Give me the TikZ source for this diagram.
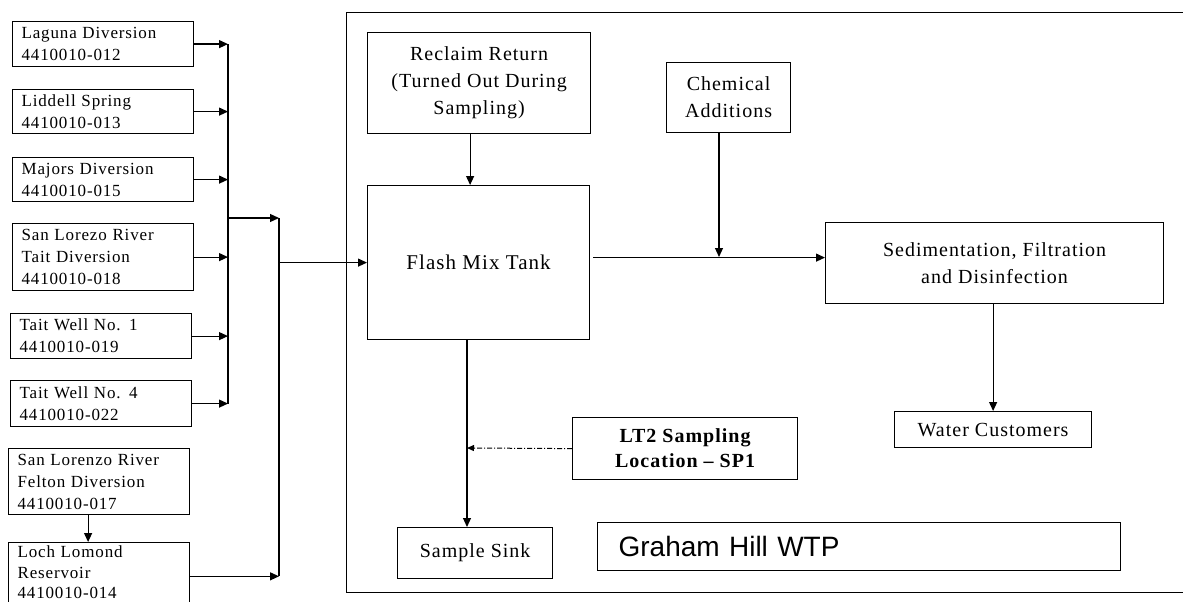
\documentclass[tikz,border=0pt]{standalone}
\usepackage{fontspec}
\setmainfont{Liberation Serif}[LetterSpace=5]
\setsansfont{Liberation Sans}
\usetikzlibrary{arrows.meta}

\begin{document}
\begin{tikzpicture}[x=1pt, y=-1pt, line width=1.2pt,
  src/.style={shape=rectangle, draw, anchor=north west, minimum width=181pt,
    text width=163pt, inner xsep=9pt, align=left, font=\fontsize{17}{22}\selectfont},
  unit/.style={shape=rectangle, draw, anchor=north west, align=center,
    font=\fontsize{20}{27}\selectfont},
  feed/.style={-{Triangle[length=9pt,width=8pt]}}]

\useasboundingbox (0,0) rectangle (1183,602);
\clip (0,0) rectangle (1183,602);

\node (wtp) at (346,12) [shape=rectangle, draw, anchor=north west, minimum width=880pt, minimum height=580pt] {};

\node (laguna) at (12,21) [src, minimum height=45pt] {Laguna Diversion\\4410010-012};

\node (liddell) at (12,89) [src, minimum height=44pt] {Liddell Spring\\4410010-013};

\node (majors) at (12,157) [src, minimum height=44pt] {Majors Diversion\\4410010-015};

\node (taitdiv) at (12,223) [src, minimum height=67pt] {San Lorezo River\\Tait Diversion\\4410010-018};

\node (tait1) at (10,313) [src, minimum height=45pt] {Tait Well No. 1\\4410010-019};

\node (tait4) at (10,380) [src, minimum height=46pt] {Tait Well No. 4\\4410010-022};

\node (felton) at (8,448) [src, minimum height=66pt] {San Lorenzo River\\Felton Diversion\\4410010-017};

\node (loch) at (8,542) [src, minimum height=67pt, text depth=49pt, font=\fontsize{17}{20.5}\selectfont] {Loch Lomond\\Reservoir\\4410010-014};

\node (reclaim) at (367,32) [unit, minimum width=223pt, minimum height=101pt] {Reclaim Return\\(Turned Out During\\Sampling)};

\node (chem) at (666,62) [unit, minimum width=124pt, minimum height=70pt] {Chemical\\Additions};

\node (flash) at (367,185) [unit, minimum width=222pt, minimum height=154pt, font=\fontsize{21}{27}\selectfont] {Flash Mix Tank};

\node (sed) at (825,222) [unit, minimum width=338pt, minimum height=81pt] {Sedimentation, Filtration\\and Disinfection};

\node (water) at (894,411) [unit, minimum width=197pt, minimum height=36pt] {Water Customers};

\node (lt2) at (572,417) [unit, minimum width=225pt, minimum height=62pt, font=\bfseries\fontsize{20}{25}\selectfont] {LT2 Sampling\\Location -- SP1};

\node (sink) at (397,527) [unit, minimum width=155pt, minimum height=51pt] {Sample Sink};

\node (graham) at (597,522) [shape=rectangle, draw, anchor=north west, minimum width=523pt, minimum height=48pt,
  text width=481pt, inner xsep=21pt, align=left, font=\sffamily\fontsize{28}{34}\selectfont] {Graham Hill WTP};

\coordinate (bus1) at (228,218);
\coordinate (bus2) at (279,218);
\coordinate (dose) at (719,257);
\coordinate (tap) at (467,448);

\draw (laguna.east -| bus1) -- (tait4.east -| bus1);
\foreach \s in {laguna,liddell,majors,taitdiv,tait1,tait4}
  \draw [feed] (\s.east) -- (\s.east -| bus1);
\draw [feed] (bus1) -- (bus2);
\draw (bus2) -- (loch.east -| bus2);
\draw [feed] (loch.east) -- (loch.east -| bus2);
\draw [feed] ([xshift=-11pt]felton.south) -- ([xshift=-11pt]loch.north);
\draw [feed] (flash.west -| bus2) -- (flash.west);

\draw [feed] ([xshift=-9pt]reclaim.south) -- ([xshift=-9pt]reclaim.south |- flash.north);
\draw [feed, shorten <=3pt] ([yshift=5pt]flash.east) -- ([yshift=5pt]flash.east -| sed.west);
\draw [feed] (chem.south -| dose) -- (dose);
\draw [feed] (water.north |- sed.south) -- (water.north);
\draw [feed] (flash.south -| tap) -- (sink.north -| tap);
\draw [-{Triangle[length=7pt,width=6pt]}, line width=1pt, dash pattern=on 5pt off 2pt on 1pt off 2pt] (lt2.west) -- (tap);
\end{tikzpicture}
\end{document}
